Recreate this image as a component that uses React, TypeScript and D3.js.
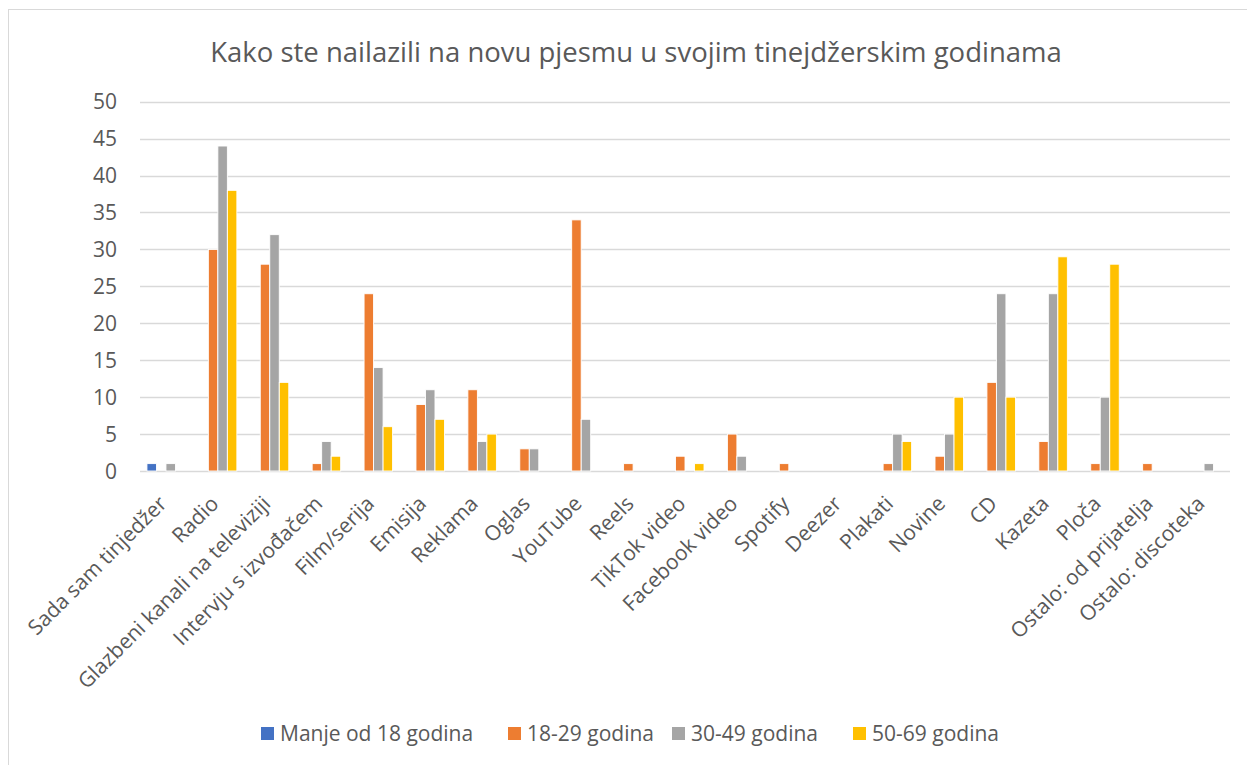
import React, { useEffect, useRef } from "react";
import * as d3 from "d3";

const title = "Kako ste nailazili na novu pjesmu u svojim tinejdžerskim godinama";

const categories = [
  "Sada sam tinjedžer", "Radio", "Glazbeni kanali na televiziji", "Intervju s izvođačem",
  "Film/serija", "Emisija", "Reklama", "Oglas", "YouTube", "Reels", "TikTok video",
  "Facebook video", "Spotify", "Deezer", "Plakati", "Novine", "CD", "Kazeta", "Ploča",
  "Ostalo: od prijatelja", "Ostalo: discoteka",
];

const seriesNames = ["Manje od 18 godina", "18-29 godina", "30-49 godina", "50-69 godina"];
const seriesColors = ["#4472C4", "#ED7D31", "#A5A5A5", "#FFC000"];

const under18 = [1, 0, 0, 0, 0, 0, 0, 0, 0, 0, 0, 0, 0, 0, 0, 0, 0, 0, 0, 0, 0];
const age18to29 = [0, 30, 28, 1, 24, 9, 11, 3, 34, 1, 2, 5, 1, 0, 1, 2, 12, 4, 1, 1, 0];
const age30to49 = [1, 44, 32, 4, 14, 11, 4, 3, 7, 0, 0, 2, 0, 0, 5, 5, 24, 24, 10, 0, 1];
const age50to69 = [0, 38, 12, 2, 6, 7, 5, 0, 0, 0, 1, 0, 0, 0, 4, 10, 10, 29, 28, 0, 0];

const yTicks = [0, 5, 10, 15, 20, 25, 30, 35, 40, 45, 50];

const W = 1247;
const H = 765;
const FONT = "'Open Sans', sans-serif";
const TEXT = "#595959";

export default function App() {
  const ref = useRef<SVGSVGElement>(null);

  useEffect(() => {
    const svg = d3.select(ref.current);
    svg.selectAll("*").remove();

    const series = [under18, age18to29, age30to49, age50to69];
    const left = 140, right = 1230, top = 101.7, bottom = 471;

    // chart border
    svg.append("rect")
      .attr("x", 8.5).attr("y", 9.5)
      .attr("width", W + 20).attr("height", H + 20)
      .attr("fill", "#fff").attr("stroke", "#d9d9d9");

    const x = d3.scaleBand<string>().domain(categories).range([left, right]);
    const inner = d3.scaleBand<number>().domain([0, 1, 2, 3])
      .range([0, x.bandwidth()]).paddingOuter(0.73).paddingInner(0);
    const y = d3.scaleLinear().domain([0, 50]).range([bottom, top]);

    // title
    svg.append("text")
      .attr("x", 636).attr("y", 62)
      .attr("text-anchor", "middle")
      .attr("font-family", FONT).attr("font-size", 27.5)
      .attr("fill", TEXT)
      .text(title);

    // grid
    svg.append("g").selectAll("line")
      .data(yTicks)
      .enter()
      .append("line")
      .attr("x1", left).attr("x2", right)
      .attr("y1", d => Math.round(y(d)) + 0.5).attr("y2", d => Math.round(y(d)) + 0.5)
      .attr("stroke", "#d9d9d9").attr("stroke-width", 1.3);

    // y labels
    svg.append("g").selectAll("text")
      .data(yTicks)
      .enter()
      .append("text")
      .attr("x", 117).attr("y", d => y(d))
      .attr("dy", "0.36em")
      .attr("text-anchor", "end")
      .attr("font-family", FONT).attr("font-size", 21)
      .attr("fill", TEXT)
      .text(d => d);

    // bars, one group per series
    series.forEach((vals, si) => {
      const rows = vals.map((v, i) => ({ cat: categories[i], v })).filter(d => d.v > 0);
      svg.append("g").selectAll("rect")
        .data(rows)
        .enter()
        .append("rect")
        .attr("x", d => x(d.cat)! + inner(si)!)
        .attr("y", d => y(d.v))
        .attr("width", inner.bandwidth())
        .attr("height", d => y(0) - y(d.v))
        .attr("fill", seriesColors[si])
        .attr("stroke", "#fff").attr("stroke-width", 0.9);
    });

    // category labels
    svg.append("g").selectAll("text")
      .data(categories)
      .enter()
      .append("text")
      .attr("transform", d => `translate(${x(d)! + x.bandwidth() / 2 + 2},${bottom + 34}) rotate(-45)`)
      .attr("text-anchor", "end")
      .attr("font-family", FONT).attr("font-size", 21)
      .attr("fill", TEXT)
      .text(d => d);

    // legend
    const legendX = [261, 508, 672, 853];
    const lg = svg.append("g");
    seriesNames.forEach((name, i) => {
      lg.append("rect")
        .attr("x", legendX[i]).attr("y", 727)
        .attr("width", 13).attr("height", 13)
        .attr("fill", seriesColors[i]);
      lg.append("text")
        .attr("x", legendX[i] + 19).attr("y", 733.5)
        .attr("dy", "0.36em")
        .attr("font-family", FONT).attr("font-size", 21)
        .attr("fill", TEXT)
        .text(name);
    });
  }, []);

  return (
    <svg ref={ref} width={W} height={H}
      style={{ position: "absolute", left: 0, top: 0, display: "block" }} />
  );
}
